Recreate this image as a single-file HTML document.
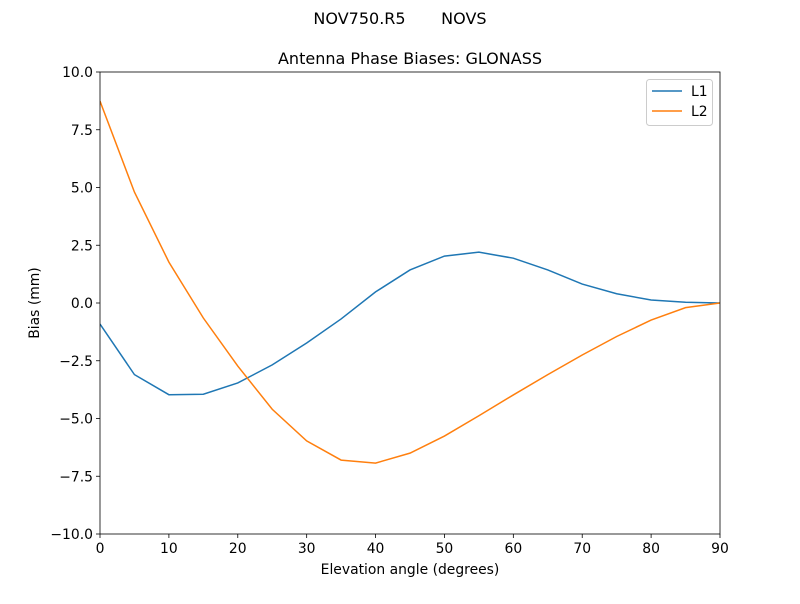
<!DOCTYPE html>
<html><head><meta charset="utf-8"><style>
body{margin:0;background:#fff;font-family:"DejaVu Sans","Liberation Sans",sans-serif;}
</style></head><body>
<svg id="c" width="800" height="600" xmlns="http://www.w3.org/2000/svg" font-family="DejaVu Sans, Liberation Sans, sans-serif"></svg>
<script>
const elevations=[0,5,10,15,20,25,30,35,40,45,50,55,60,65,70,75,80,85,90];
const l1Values=[-0.91,-3.1,-3.97,-3.95,-3.46,-2.68,-1.73,-0.69,0.48,1.43,2.03,2.2,1.94,1.43,0.82,0.4,0.13,0.03,0];
const l2Values=[8.74,4.8,1.77,-0.65,-2.73,-4.6,-5.97,-6.8,-6.93,-6.5,-5.76,-4.88,-3.98,-3.1,-2.25,-1.45,-0.74,-0.2,0];
const xTicks=[0,10,20,30,40,50,60,70,80,90];
const yTicks=[-10,-7.5,-5,-2.5,0,2.5,5,7.5,10];
const L=100,R=720,T=72,B=534;
const sx=v=>L+(v-0)/90*(R-L);
const sy=v=>B-(v+10)/20*(B-T);
const svg=document.getElementById('c');
const NS='http://www.w3.org/2000/svg';
function mk(tag,attrs,text){const e=document.createElementNS(NS,tag);for(const k in attrs)e.setAttribute(k,attrs[k]);if(text!==undefined)e.textContent=text;svg.appendChild(e);return e;}
let t;
t=mk('text',{x:400,y:24,'text-anchor':'middle','font-size':16,fill:'#000'},'NOV750.R5       NOVS');
t.style.whiteSpace='pre';
t=mk('text',{x:410,y:64,'text-anchor':'middle','font-size':16,fill:'#000'},'Antenna Phase Biases: GLONASS');

xTicks.forEach(v=>{const x=sx(v);
 let l=mk('line',{x1:x,x2:x,y1:B,y2:B+4,stroke:'#000','stroke-width':0.8});
 let tx=mk('text',{x:x,y:B+19,'text-anchor':'middle','font-size':13.9},String(v));});
yTicks.forEach(v=>{const y=sy(v);
 let l=mk('line',{x1:L-4,x2:L,y1:y,y2:y,stroke:'#000','stroke-width':0.8});
 let tx=mk('text',{x:L-7,y:y+5,'text-anchor':'end','font-size':13.9},(v<0?'\u2212':'')+Math.abs(v).toFixed(1));});
t=mk('text',{x:410,y:574,'text-anchor':'middle','font-size':13.9},'Elevation angle (degrees)');
t=mk('text',{x:39,y:303,'text-anchor':'middle','font-size':13.9,transform:'rotate(-90 39 303)'},'Bias (mm)');
const defs=mk('defs',{});const cp=document.createElementNS(NS,'clipPath');cp.setAttribute('id','clip');const cr=document.createElementNS(NS,'rect');cr.setAttribute('x',L);cr.setAttribute('y',T);cr.setAttribute('width',R-L);cr.setAttribute('height',B-T);cp.appendChild(cr);defs.appendChild(cp);
function series(vals,color,name){const d=vals.map((v,i)=>(i?'L':'M')+sx(elevations[i])+' '+sy(v)).join(' ');
 const p=mk('path',{d:d,fill:'none',stroke:color,'stroke-width':1.5,'clip-path':'url(#clip)'});}
series(l1Values,'#1f77b4','l1-line');
series(l2Values,'#ff7f0e','l2-line');
t=mk('rect',{x:L,y:T,width:R-L,height:B-T,fill:'none',stroke:'#000','stroke-width':0.8});
t=mk('rect',{x:646.5,y:79.5,width:66,height:46,rx:3,fill:'#fff','fill-opacity':0.8,stroke:'#ccc'});
[['L1','#1f77b4',91],['L2','#ff7f0e',111]].forEach(([n,c,y])=>{
 let l=mk('line',{x1:652,x2:682,y1:y,y2:y,stroke:c,'stroke-width':1.5});
 let tx=mk('text',{x:691,y:y+5,'font-size':13.9},n);});
</script>
</body></html>
